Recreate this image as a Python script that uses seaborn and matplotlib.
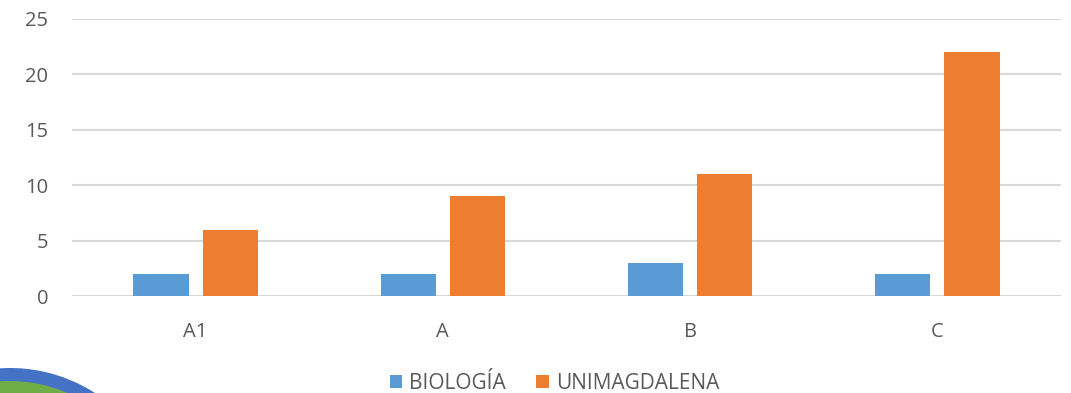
import pandas as pd
import matplotlib.pyplot as plt
import seaborn as sns
from matplotlib.patches import Circle

# datos
categorias = ["A1", "A", "B", "C"]
biologia = [2, 2, 3, 2]
unimagdalena = [6, 9, 11, 22]
series = ["BIOLOGÍA", "UNIMAGDALENA"]
colores = ["#5b9bd5", "#ed7d31"]

df = pd.DataFrame({
    "categoria": categorias * 2,
    "valor": biologia + unimagdalena,
    "serie": [series[0]] * len(categorias) + [series[1]] * len(categorias),
})

sns.set_theme(style="white")
plt.rcParams["font.family"] = ["Open Sans", "DejaVu Sans"]

fig = plt.figure(figsize=(10.71, 3.93), dpi=100)
ax = fig.add_axes([0.0672, 0.2468, 0.9235, 0.705])
ax.set_facecolor("none")

sns.barplot(data=df, x="categoria", y="valor", hue="serie", order=categorias,
            hue_order=series, palette=colores, width=0.56, gap=0.2,
            saturation=1, linewidth=0, ax=ax, zorder=3)

ax.set_ylim(0, 25)
ax.set_yticks([0, 5, 10, 15, 20, 25])
ax.set_xlim(-0.5, 3.5)
ax.grid(axis="y", color="#d9d9d9", linewidth=1.5, zorder=0)
ax.set_axisbelow(True)
for s in ax.spines.values():
    s.set_visible(False)
ax.tick_params(axis="both", length=0, labelsize=14.5, labelcolor="#595959")
ax.tick_params(axis="x", pad=19)
ax.tick_params(axis="y", pad=17)
ax.set_xlabel("")
ax.set_ylabel("")

ax.legend(loc="center", bbox_to_anchor=(0.488, -0.315), ncol=2, frameon=False,
          fontsize=15, labelcolor="#595959", handlelength=0.6, handleheight=0.6,
          handletextpad=0.35, columnspacing=1.45)

# decoracion esquina inferior izquierda
fig.patches.append(Circle((10, -132), 157, transform=None, facecolor="#4472c4",
                          edgecolor="none", zorder=0))
fig.patches.append(Circle((10, -132), 144, transform=None, facecolor="#70ad47",
                          edgecolor="none", zorder=0))

fig.savefig("out.png", dpi=100)
